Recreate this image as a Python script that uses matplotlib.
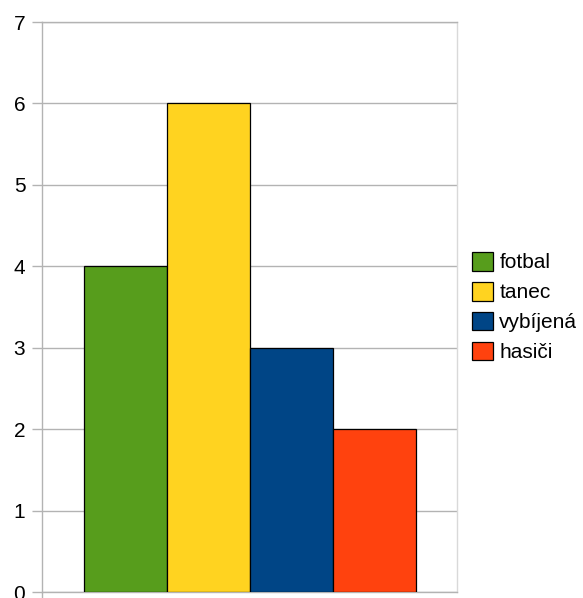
import matplotlib.pyplot as plt

plt.rcParams['font.family'] = ['Liberation Sans', 'DejaVu Sans']

labels = ["fotbal", "tanec", "vybíjená", "hasiči"]
values = [4, 6, 3, 2]
colors = ["#579D1C", "#FFD320", "#004586", "#FF420E"]
yticks = [0, 1, 2, 3, 4, 5, 6, 7]

fig = plt.figure(figsize=(5.83, 5.98), dpi=100)
ax = fig.add_axes([42 / 583, 6 / 598, 415 / 583, 570 / 598])

for i, (lab, val, col) in enumerate(zip(labels, values, colors)):
    ax.bar(i, val, width=1.0, color=col, edgecolor="black", linewidth=0.9,
           label=lab, zorder=3)

ax.set_xlim(-1.006, 4.0)
ax.set_ylim(0, 7)
ax.set_yticks(yticks)
ax.yaxis.grid(True, color="#b3b3b3", linewidth=1.0, zorder=0)
ax.set_axisbelow(True)

ax.set_xticks([-1.006])
ax.set_xticklabels([""])
ax.tick_params(axis="x", length=5, color="#b3b3b3", width=1)
ax.tick_params(axis="y", length=7, color="#b3b3b3", width=1, pad=5,
               labelsize=15)

ax.spines["left"].set_color("#b3b3b3")
ax.spines["bottom"].set_color("#b3b3b3")
ax.spines["right"].set_color("#d9d9d9")
ax.spines["top"].set_color("#b3b3b3")
for s in ax.spines.values():
    s.set_linewidth(1.0)

fig.legend(loc="center left", bbox_to_anchor=(464 / 583, 1 - 307 / 598),
           frameon=False, fontsize=15, handlelength=1.0, handleheight=1.0,
           handletextpad=0.3, labelspacing=0.45, borderaxespad=0)

fig.savefig("out.png", dpi=100)
